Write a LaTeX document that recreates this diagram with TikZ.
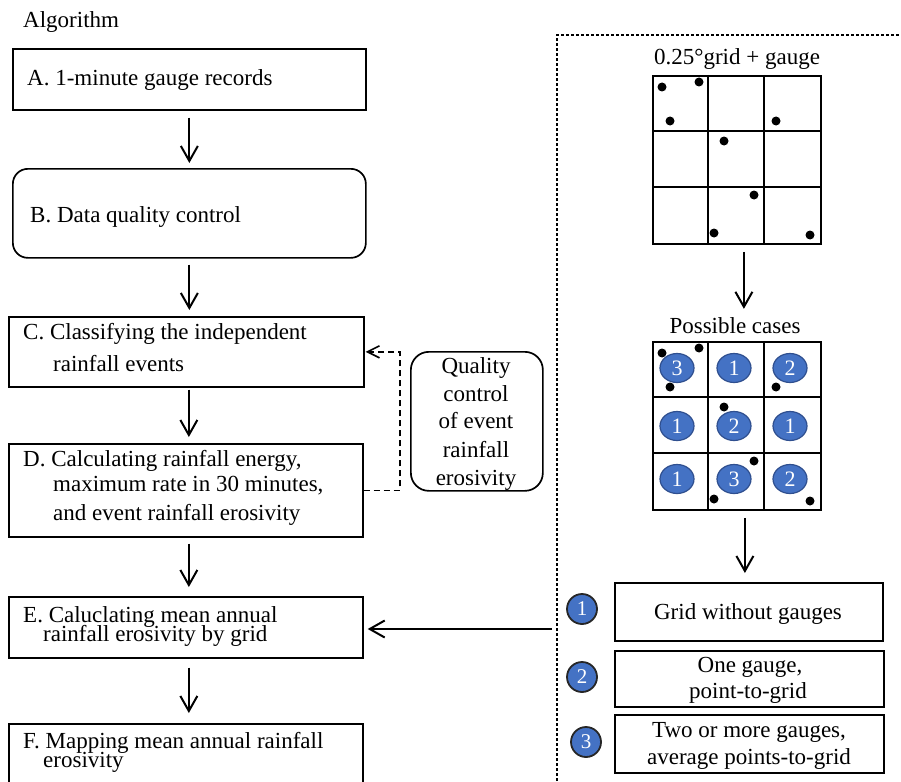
\documentclass[tikz,border=0pt]{standalone}
\usepackage{fontspec}
\setmainfont{Liberation Serif}
\usetikzlibrary{arrows.meta,shapes.geometric}
\definecolor{cblue}{HTML}{4472C4}
\definecolor{cedge}{HTML}{2F4F8F}
\begin{document}
\begin{tikzpicture}[x=1pt,y=-1pt,
 txt/.style={font=\fontsize{23}{28}\selectfont, inner sep=0pt, anchor=base west},
 ctxt/.style={font=\fontsize{23}{28}\selectfont, inner sep=0pt, anchor=base},
 box/.style={draw, line width=1.7pt, inner sep=0pt, anchor=north west},
 arr/.style={line width=2pt, -{Straight Barb[length=15pt,width=17pt]}},
 darr/.style={line width=1.6pt, dash pattern=on 6pt off 4pt, -{Straight Barb[length=12pt,width=12pt]}},
 border/.style={line width=1.3pt, dash pattern=on 3pt off 2pt},
 gridl/.style={line width=1.8pt},
 gridbox/.style={draw, line width=1.8pt, minimum size=168pt, inner sep=0pt, anchor=north west},
 dot/.style={circle, fill=black, inner sep=0pt, minimum size=9pt},
 ell/.style={ellipse, draw=cedge, line width=1.2pt, fill=cblue, text=white, inner sep=0pt, minimum width=34pt, minimum height=29pt, font=\fontsize{22}{22}\selectfont},
 num/.style={circle, draw=black!85, line width=1.8pt, fill=cblue, text=white, inner sep=0pt, minimum size=30pt, font=\fontsize{21}{21}\selectfont},
]
\useasboundingbox (0,0) rectangle (901,781);

% ---------------- left column ----------------
\node[txt] (alg) at (23,28) {Algorithm};

\node[box, minimum width=353pt, minimum height=61pt] (A) at (12,48) {};
\node[txt] (tA) at (27,86) {A. 1-minute gauge records};

\node[box, rounded corners=15pt, minimum width=353pt, minimum height=89pt] (B) at (12,168) {};
\node[txt] (tB) at (30,222) {B. Data quality control};

\node[box, minimum width=355pt, minimum height=70pt] (C) at (8,316) {};
\node[txt] (tC1) at (23,339) {C. Classifying the independent};
\node[txt] (tC2) at (53,371) {rainfall events};

\node[box, minimum width=354pt, minimum height=93pt] (D) at (8,443) {};
\node[txt] (tD1) at (23,466) {D. Calculating rainfall energy,};
\node[txt] (tD2) at (53,491) {maximum rate in 30 minutes,};
\node[txt] (tD3) at (53,520) {and event rainfall erosivity};

\node[box, minimum width=354pt, minimum height=61pt] (E) at (8,596) {};
\node[txt] (tE1) at (23,622) {E. Caluclating mean annual};
\node[txt] (tE2) at (43,641) {rainfall erosivity by grid};

\node[box, minimum width=354pt, minimum height=90pt] (F) at (8,723) {};
\node[txt] (tF1) at (23,748) {F. Mapping mean annual rainfall};
\node[txt] (tF2) at (43,767) {erosivity};

\draw[arr, shorten <=7pt, shorten >=5pt] (A.south) -- (A.south |- B.north);
\draw[arr, shorten <=6pt, shorten >=6pt] (B.south) -- (B.south |- C.north);
\draw[arr, shorten <=2pt, shorten >=6pt] ([xshift=2.5pt]C.south) -- ([xshift=2.5pt]C.south |- D.north);
\draw[arr, shorten <=6pt, shorten >=9pt] ([xshift=3pt]D.south) -- ([xshift=3pt]D.south |- E.north);
\draw[arr, shorten <=9pt, shorten >=10pt] ([xshift=3pt]E.south) -- ([xshift=3pt]E.south |- F.north);

% quality control box and dashed feedback
\node[box, rounded corners=18pt, minimum width=132pt, minimum height=139pt] (Q) at (410,351) {};
\node[ctxt] (q1) at (476,373) {Quality};
\node[ctxt] (q2) at (476,401) {control};
\node[ctxt] (q3) at (476,428) {of event};
\node[ctxt] (q4) at (476,457) {rainfall};
\node[ctxt] (q5) at (476,485) {erosivity};
\draw[darr, shorten >=1pt] (D.east) -- ++(36,0) |- (C.east);

% ---------------- right panel ----------------
\coordinate (bl) at (557,781);
\coordinate (bc) at (557,35);
\coordinate (br) at (901,35);
\draw[border] (bl) -- (bc) -- (br);

\node[ctxt] (t1) at (737,65) {0.25°grid + gauge};
\node[gridbox] (g1) at (652,75) {};
\begin{scope}[shift={(g1.north west)}]
  \draw[gridl] (56,0) -- (56,168) (112,0) -- (112,168) (0,56) -- (168,56) (0,112) -- (168,112);
  \foreach \dx/\dy [count=\i] in {10/12,47/7,18/46,124/46,72/66,102/120,62/158,158/160}
    \node[dot] (ga\i) at (\dx,\dy) {};
\end{scope}

\node[ctxt] (pc) at (735,333) {Possible cases};
\node[gridbox] (g2) at (652,341) {};
\begin{scope}[shift={(g2.north west)}]
  \draw[gridl] (56,0) -- (56,168) (112,0) -- (112,168) (0,56) -- (168,56) (0,112) -- (168,112);
  \foreach \cx/\cy/\n [count=\i] in {25/27/3,82/27/1,138/27/2,25/85/1,82/85/2,138/85/1,25/138/1,82/138/3,138/138/2}
    \node[ell] (e\i) at (\cx,\cy) {\n};
  \foreach \dx/\dy [count=\i] in {10/12,47/7,18/46,124/46,72/66,102/120,62/158,158/160}
    \node[dot] (gb\i) at (\dx,\dy) {};
\end{scope}

\draw[arr, shorten <=7pt, shorten >=8pt] ([xshift=7pt]g1.south) -- ([xshift=7pt]g1.south |- pc.north);

% legend
\node[box, minimum width=268pt, minimum height=58pt] (L1) at (614,582) {};
\node[ctxt] (l1) at (748,619) {Grid without gauges};
\node[box, minimum width=269pt, minimum height=56pt] (L2) at (614,650) {};
\node[ctxt] (l2a) at (750,672) {One gauge,};
\node[ctxt] (l2b) at (748,698) {point-to-grid};
\node[box, minimum width=269pt, minimum height=58pt] (L3) at (614,714) {};
\node[ctxt] (l3a) at (749,737) {Two or more gauges,};
\node[ctxt] (l3b) at (749,764) {average points-to-grid};

\node[num] (n1) at (582,609) {1};
\node[num] (n2) at (582,677) {2};
\node[num] (n3) at (586,742) {3};

\draw[arr, shorten <=7pt, shorten >=9pt] ([xshift=8pt]g2.south) -- ([xshift=8pt]g2.south |- L1.north);

\coordinate (src) at (552,629);
\draw[arr, shorten >=4pt] (src) -- (src -| E.east);
\end{tikzpicture}
\end{document}
